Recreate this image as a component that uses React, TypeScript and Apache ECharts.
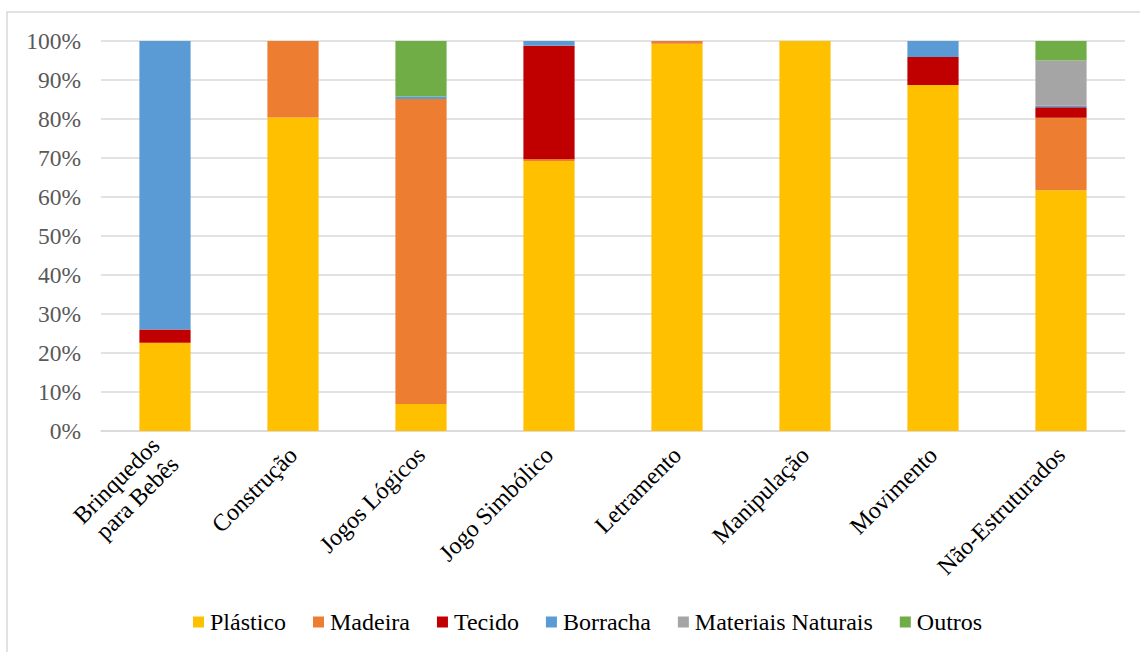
import React, { useEffect, useRef } from "react";
import * as echarts from "echarts";

const categories = [
  "Brinquedos\npara Bebês",
  "Construção",
  "Jogos Lógicos",
  "Jogo Simbólico",
  "Letramento",
  "Manipulação",
  "Movimento",
  "Não-Estruturados",
];

const plastico = [22.6, 80.4, 6.9, 69.2, 99.3, 100, 88.7, 61.7];
const madeira = [0, 19.6, 78.2, 0.5, 0.7, 0, 0, 18.6];
const tecido = [3.4, 0, 0, 29.1, 0, 0, 7.2, 2.7];
const borracha = [74.0, 0, 0.7, 1.2, 0, 0, 4.1, 0.4];
const materiaisNaturais = [0, 0, 0, 0, 0, 0, 0, 11.6];
const outros = [0, 0, 14.2, 0, 0, 0, 0, 5.0];

const yTicks = [0, 10, 20, 30, 40, 50, 60, 70, 80, 90, 100];

const seriesDefs = [
  { name: "Plástico", data: plastico, color: "#FFC000" },
  { name: "Madeira", data: madeira, color: "#ED7D31" },
  { name: "Tecido", data: tecido, color: "#C00000" },
  { name: "Borracha", data: borracha, color: "#5B9BD5" },
  { name: "Materiais Naturais", data: materiaisNaturais, color: "#A5A5A5" },
  { name: "Outros", data: outros, color: "#70AD47" },
];

const FONT = "Liberation Serif";

export default function App() {
  const ref = useRef<HTMLDivElement>(null);
  useEffect(() => {
    if (!ref.current) return;
    const chart = echarts.init(ref.current, undefined, { renderer: "svg" });
    chart.setOption({
      animation: false,
      backgroundColor: "#ffffff",
      textStyle: { fontFamily: FONT },
      graphic: [
        {
          type: "rect",
          shape: { x: 7, y: 12, width: 1200, height: 700 },
          style: { fill: "none", stroke: "#d9d9d9", lineWidth: 1.5 },
          silent: true,
          z: -1,
        },
      ],
      grid: { left: 101, right: 15, top: 41, bottom: 221, containLabel: false },
      legend: {
        bottom: 13,
        left: 188,
        itemWidth: 11,
        itemHeight: 11,
        itemGap: 27,
        itemStyle: { borderWidth: 0 },
        icon: "rect",
        textStyle: { fontFamily: FONT, fontSize: 24, color: "#000000", padding: [0, 0, 0, 1] },
        data: seriesDefs.map((s) => s.name),
      },
      xAxis: {
        type: "category",
        data: categories,
        axisLine: { lineStyle: { color: "#d9d9d9", width: 1.5 } },
        axisTick: { show: false },
        axisLabel: {
          rotate: 45,
          interval: 0,
          margin: 20,
          fontFamily: FONT,
          fontSize: 24,
          color: "#000000",
          lineHeight: 27,
        },
      },
      yAxis: {
        type: "value",
        min: yTicks[0],
        max: yTicks[yTicks.length - 1],
        interval: 10,
        axisLine: { show: false },
        axisTick: { show: false },
        splitLine: { lineStyle: { color: "#d9d9d9", width: 1.5 } },
        axisLabel: {
          formatter: (v: number) => `${v}%`,
          fontFamily: FONT,
          fontSize: 23.5,
          color: "#595959",
          margin: 20,
        },
      },
      series: seriesDefs.map((s) => ({
        name: s.name,
        type: "bar",
        stack: "total",
        data: s.data,
        barWidth: "40%",
        itemStyle: { color: s.color },
        emphasis: { disabled: true },
      })),
    });
    return () => chart.dispose();
  }, []);
  return (
    <div
      ref={ref}
      style={{ position: "fixed", left: 0, top: 0, width: 1140, height: 652 }}
    />
  );
}
